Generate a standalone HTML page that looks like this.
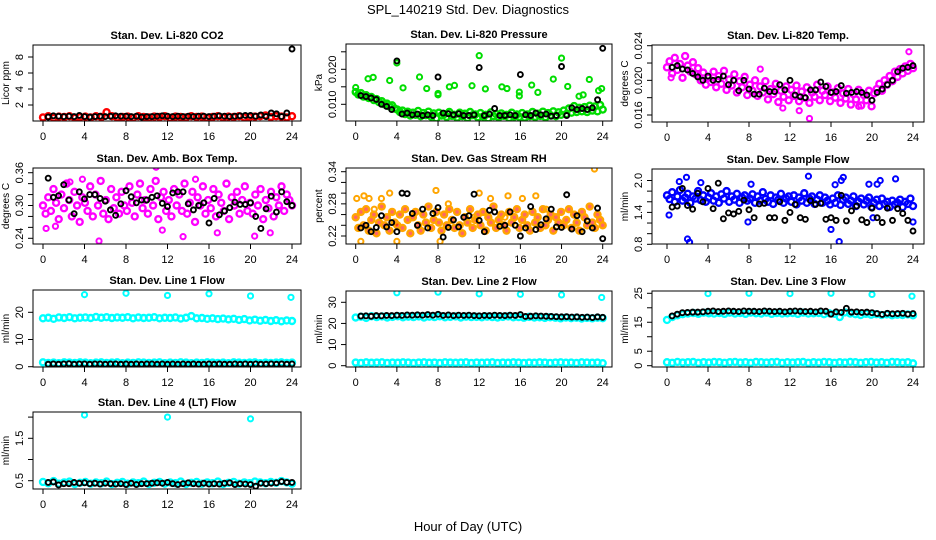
<!DOCTYPE html>
<html><head><meta charset="utf-8">
<style>
html,body{margin:0;padding:0;background:#fff;}
svg{display:block;font-family:"Liberation Sans",Arial,sans-serif;}
</style></head>
<body>
<svg id="chart" width="936" height="540" viewBox="0 0 936 540" xmlns="http://www.w3.org/2000/svg">
<rect width="936" height="540" fill="#fff"/>
<text x="468" y="14" text-anchor="middle" font-size="13">SPL_140219  Std. Dev. Diagnostics</text>
<text x="468" y="531" text-anchor="middle" font-size="13">Hour of Day (UTC)</text>
</svg>
<script>
// ---------- DATA ----------
const hourTicks = [0,4,8,12,16,20,24];

const co2Color = [.45,.6,.4,.55,.5,.6,.4,.5,.55,.45,.6,.5, 1.1,.6,.45,.5,.55,.4,.6,.5,.45,.55,.5,.6, .4,.55,.5,.45,.6,.5,.55,.4,.5,.6,.45,.55, .5,.6,.45,.5,.55,.6,.7,.5,.6,.55,.45,.6];
const co2Black = [.5,.65,.6,.55,.6,.55,.7,.55, .5,.55,.6,.55,.6,.65,.6,.6, .55,.6,.5,.55,.55,.6,.65,.6, .55,.6,.55,.6,.55,.6,.6,.55, .6,.65,.6,.55,.6,.65,.7,.7, .6,.75,.55,1.0,.9,.55,1.0,9.0];
const co2OutHours = [];
const co2OutValues = [];

const presColor = [.0135,.0128,.0132,.0122,.0126,.0118,.0121,.0112,.0115,.0106,.0109,.0100,.0102,.0094,.0097,.0088,
.0085,.0078,.0082,.0072,.0079,.0068,.0076,.0070,.0081,.0066,.0075,.0069,.0079,.0065,.0074,.0060,
.0076,.0068,.0072,.0064,.0078,.0067,.0070,.0062,.0076,.0066,.0073,.0061,.0078,.0069,.0071,.0063,
.0075,.0065,.0070,.0060,.0077,.0066,.0072,.0063,.0074,.0067,.0070,.0061,.0076,.0065,.0071,.0064,
.0075,.0062,.0071,.0066,.0078,.0064,.0073,.0067,.0079,.0063,.0075,.0068,.0080,.0066,.0077,.0070,
.0082,.0072,.0088,.0076,.0095,.0078,.0090,.0080,.0092,.0078,.0096,.0082,.0094,.0080,.0098,.0085];
const presBlack = [.0125,.0122,.0118,.0114,.0100,.0094,.0085,.0224, .0072,.0075,.0070,.0072,.0068,.0070,.0068,.0178, .0075,.0073,.0070,.0073,.0068,.0068,.0070,.0205, .0068,.0072,.0088,.0068,.0068,.0070,.0068,.0185, .0070,.0068,.0075,.0070,.0072,.0066,.0068,.0208, .0068,.0090,.0085,.0088,.0085,.0090,.0113,.0260];
const presOutHours = [0,1.2,1.7,3.3,4,4.6,6.2,6.9,8,8,9.1,9.6,11.3,12,12.6,14.2,14.7,15.9,15.9,17.1,17.7,19.2,20,20.6,21.7,22.1,22.7,23.6,23.9];
const presOutValues = [.0148,.0173,.0177,.0168,.0218,.0147,.0178,.0145,.0131,.0127,.0150,.0154,.0153,.0239,.0144,.0150,.0145,.0135,.0124,.0155,.0134,.0172,.0232,.0151,.0123,.0127,.0171,.0139,.0145];

const tempColor = [.0215,.0222,.0208,.0226,.0212,.0219,.0203,.0228,.0217,.0210,.0221,.0207,.0214,.0200,.0209,.0195,
.0203,.0198,.0210,.0192,.0205,.0196,.0211,.0189,.0201,.0194,.0207,.0186,.0199,.0192,.0204,.0183,
.0195,.0188,.0200,.0182,.0193,.0186,.0199,.0178,.0190,.0184,.0196,.0175,.0188,.0181,.0193,.0177,
.0189,.0182,.0194,.0176,.0187,.0180,.0192,.0174,.0186,.0181,.0195,.0177,.0188,.0183,.0193,.0176,
.0186,.0180,.0191,.0174,.0185,.0179,.0190,.0172,.0184,.0178,.0189,.0171,.0183,.0177,.0188,.0170,
.0185,.0190,.0196,.0188,.0200,.0195,.0205,.0199,.0210,.0204,.0213,.0208,.0216,.0211,.0219,.0214];
const tempBlack = [.0215,.0217,.0213,.0212,.0208,.0204,.0200,.0205, .0200,.0201,.0205,.0195,.0200,.0188,.0200,.0190, .0184,.0184,.0191,.0187,.0187,.0195,.0189,.0200, .0183,.0181,.0180,.0189,.0189,.0198,.0193,.0186, .0187,.0194,.0185,.0186,.0187,.0186,.0183,.0177, .0186,.0190,.0195,.0200,.0210,.0214,.0215,.0217];
const tempOutHours = [0.4,9.1,11.3,12.9,13.9,18.7,23.6];
const tempOutValues = [.0203,.0213,.0168,.0165,.0156,.0170,.0233];

const ambColor = [.300,.285,.315,.290,.330,.305,.275,.320,.295,.340,.310,.280,.325,.300,.270,.315,
.305,.290,.335,.280,.320,.300,.345,.285,.310,.275,.330,.295,.315,.285,.325,.300,
.290,.335,.305,.280,.320,.340,.295,.310,.285,.330,.300,.345,.275,.315,.325,.290,
.310,.280,.330,.300,.320,.290,.340,.285,.305,.325,.270,.315,.300,.335,.285,.310,
.295,.330,.280,.320,.305,.290,.340,.275,.315,.300,.325,.285,.310,.335,.290,.305,
.285,.320,.300,.330,.275,.310,.295,.325,.280,.315,.300,.335,.290,.320,.310,.300];
const ambBlack = [.350,.315,.318,.338,.310,.285,.325,.312, .320,.320,.313,.308,.292,.282,.303,.327, .316,.305,.310,.310,.315,.318,.304,.298, .323,.325,.325,.303,.292,.300,.305,.268, .313,.283,.290,.296,.306,.302,.302,.305, .280,.258,.294,.317,.288,.325,.307,.300];
const ambOutHours = [0.3,1.2,2.6,3.8,5.4,10.9,11.5,13.5,14.7,16.8,20.4,21.9];
const ambOutValues = [.258,.262,.343,.348,.235,.370,.255,.243,.348,.250,.244,.250];

const rhColor = [.255,.235,.265,.240,.270,.230,.250,.260,.225,.245,.275,.240,.255,.230,.265,.245,
.240,.260,.235,.270,.250,.225,.255,.265,.240,.230,.260,.245,.275,.235,.250,.265,
.245,.230,.260,.240,.270,.250,.235,.265,.240,.225,.255,.245,.270,.235,.250,.260,
.240,.265,.230,.255,.245,.275,.235,.250,.260,.240,.230,.265,.245,.255,.270,.235,
.250,.260,.240,.230,.265,.245,.255,.235,.270,.240,.250,.260,.230,.255,.245,.265,
.240,.250,.270,.235,.260,.245,.230,.265,.255,.240,.275,.245,.235,.260,.250,.240];
const rhBlack = [.235,.240,.228,.236,.258,.237,.245,.228,.300,.299,.262,.240,.270,.235,.262,.273, .218,.236,.250,.237,.255,.258,.298,.249,.228,.268,.265,.238,.240,.265,.240,.220, .235,.275,.232,.241,.252,.270,.237,.236,.297,.233,.258,.228,.248,.235,.272,.215];
const rhOutHours = [0.1,0.5,0.8,1.3,1.8,2.5,3.3,4,7.8,8.2,9,11.5,12,13.1,14.5,14.8,16.2,17.5,18.5,23.2];
const rhOutValues = [.29,.21,.295,.29,.27,.29,.30,.21,.305,.21,.28,.255,.30,.29,.255,.295,.29,.295,.27,.345];

const flowColor = [1.72,1.65,1.78,1.60,1.70,1.82,1.62,1.68,1.75,1.58,1.70,1.66,1.80,1.63,1.72,1.60,
1.68,1.76,1.62,1.70,1.58,1.74,1.66,1.80,1.60,1.70,1.64,1.75,1.58,1.68,1.72,1.62,
1.66,1.74,1.58,1.70,1.62,1.78,1.65,1.60,1.72,1.56,1.68,1.64,1.75,1.58,1.66,1.70,
1.60,1.72,1.55,1.68,1.62,1.76,1.58,1.66,1.70,1.56,1.64,1.72,1.58,1.68,1.62,1.55,
1.66,1.58,1.72,1.54,1.64,1.68,1.56,1.62,1.70,1.52,1.60,1.66,1.55,1.62,1.68,1.50,
1.58,1.64,1.52,1.66,1.56,1.60,1.50,1.62,1.55,1.58,1.64,1.50,1.60,1.56,1.66,1.52];
const flowBlack = [1.5,1.52,1.85,1.53,1.46,1.76,1.6,1.85,1.47,1.95,1.28,1.39,1.37,1.42,1.63,1.45, 1.30,1.56,1.57,1.3,1.3,1.60,1.25,1.4,1.55,1.3,1.27,1.62,1.55,1.57,1.27,1.30, 1.25,1.72,1.24,1.43,1.52,1.26,1.21,1.48,1.30,1.21,1.48,1.25,1.47,1.38,1.25,1.05];
const flowOutHours = [0.2,1.2,1.9,2,2.2,3.3,7.9,8.2,13.8,16,16.4,16.8,17,17.2,19.7,20.5,20.8,22.3,20.1,24];
const flowOutValues = [1.35,1.98,2.06,0.9,0.84,1.96,1.22,1.93,2.08,1.08,1.92,0.85,2.0,2.06,1.93,1.93,2.0,2.03,1.3,1.22];

const line1Color = [17.8,18.0,17.6,18.1,17.9,18.2,17.8,18.0,18.1,17.9,18.3,18.0, 18.2,17.9,18.1,18.0,18.2,17.8,18.1,17.9,18.0,18.2,17.8,18.0, 17.9,18.1,17.7,18.0,18.6,17.8,17.9,17.6,17.8,17.5,17.7,17.4, 17.6,17.2,17.5,17.0,17.3,16.9,17.2,16.8,17.1,16.7,17.0,16.8];
const line1Low = [1.6,1.4,1.5,1.3,1.6,1.5,1.4,1.6,1.5,1.3,1.5,1.6, 1.4,1.5,1.6,1.3,1.5,1.4,1.6,1.5,1.4,1.5,1.6,1.3, 1.5,1.4,1.6,1.5,1.3,1.5,1.4,1.6,1.5,1.4,1.5,1.3, 1.6,1.5,1.4,1.5,1.6,1.3,1.5,1.4,1.5,1.6,1.4,1.5];
const line1Black = [0.9,1.0,0.9,1.0,1.1,0.9,1.0,1.0, 0.9,1.0,1.0,0.9,1.0,1.0,0.9,1.0, 0.9,1.0,0.9,1.0,1.0,0.9,1.0,0.9, 1.0,0.9,1.0,0.9,1.0,0.9,0.9,1.0, 0.9,1.0,0.9,0.9,1.0,0.9,1.0,0.9, 1.0,0.9,0.9,1.0,0.9,1.0,0.9,1.0];
const line1OutHours = [4,8,12,16,20,23.9];
const line1OutValues = [26.5,27,26.2,26.8,26,25.5];

const line2Color = [22.8,23.2,22.6,23.4,23.0,23.3,22.8,23.1,23.4,22.9,23.2,23.0, 23.3,22.8,23.2,23.0,23.4,22.9,23.1,23.3,22.8,23.2,23.0,23.1, 22.9,23.2,23.0,22.8,23.1,23.3,22.9,23.0,22.7,23.1,22.8,22.9, 22.6,22.9,22.7,22.4,22.8,22.5,22.7,22.3,22.6,22.4,22.7,22.5];
const line2Low = [1.5,1.3,1.6,1.4,1.5,1.6,1.3,1.5,1.4,1.6,1.5,1.3, 1.5,1.6,1.4,1.5,1.3,1.6,1.5,1.4,1.5,1.6,1.3,1.5, 1.4,1.5,1.6,1.3,1.5,1.4,1.6,1.5,1.3,1.5,1.4,1.6, 1.5,1.3,1.5,1.6,1.4,1.5,1.3,1.6,1.5,1.4,1.5,1.2];
const line2Black = [23.5,23.6,23.4,23.7,23.6,23.8,23.7,23.9, 23.8,24.0,23.9,24.1,23.9,24.2,23.9,24.3, 23.8,24.0,23.7,23.9,23.8,23.9,23.7,23.6, 23.8,23.7,23.9,23.8,23.7,23.9,23.8,24.2, 23.3,23.4,23.6,23.5,23.4,23.3,23.2,23.1, 23.2,23.0,23.1,22.9,23.0,22.8,23.1,22.9];
const line2OutHours = [4,8,12,16,20,23.9];
const line2OutValues = [34.5,34.8,34,33.8,33.5,32.3];

const line3Color = [15.8,16.8,17.4,17.8,18.0,18.2,17.9,18.3,18.1,18.0,18.2,17.9, 18.3,18.0,18.2,17.9,18.3,18.1,18.0,18.3,17.9,18.2,18.0,18.1, 18.2,17.9,18.3,18.0,18.1,18.2,17.8,18.1,17.9,16.8,18.4,18.0, 17.8,17.5,17.9,17.6,17.8,17.5,17.7,17.4,17.6,17.5,17.7,17.4];
const line3Low = [1.2,1.0,1.3,1.1,1.2,1.3,1.0,1.2,1.1,1.3,1.2,1.0, 1.2,1.3,1.1,1.2,1.0,1.3,1.2,1.1,1.2,1.3,1.0,1.2, 1.1,1.2,1.3,1.0,1.2,1.1,1.3,1.2,1.0,1.2,1.1,1.3, 1.2,1.0,1.2,1.3,1.1,1.2,1.0,1.3,1.2,1.1,1.2,0.8];
const line3Black = [17.2,17.8,18.3,18.4,18.5,18.5,18.6,18.8, 18.9,18.7,18.8,18.9,18.8,18.7,18.9,18.8, 18.8,18.7,18.9,18.8,18.7,18.8,18.6,18.8, 18.9,18.8,18.7,18.8,18.6,18.9,18.8,17.8, 18.6,18.4,19.8,18.5,18.6,18.4,18.5,18.3, 18.0,17.7,18.1,17.9,18.0,18.1,17.8,18.0];
const line3OutHours = [4,8,12,16,20,23.9];
const line3OutValues = [24.9,25,24.9,25,24.6,24];

const line4Color = [.47,.44,.49,.43,.46,.48,.42,.45,.47,.43,.46,.44, .48,.42,.45,.47,.43,.46,.44,.48,.42,.45,.47,.43, .46,.44,.48,.42,.45,.47,.43,.46,.44,.48,.42,.45, .47,.43,.46,.44,.48,.46,.44,.47,.45,.49,.46,.43];
const line4Black = [.46,.47,.40,.43,.43,.46,.44,.45, .43,.44,.42,.44,.43,.42,.43,.41, .44,.41,.43,.43,.44,.45,.44,.46, .43,.41,.43,.45,.43,.42,.44,.42, .43,.42,.44,.45,.41,.43,.42,.41, .37,.44,.43,.44,.45,.48,.46,.46];
const line4OutHours = [4,12,20];
const line4OutValues = [2.05,2.0,1.96];

// ---------- DRAWING ----------
const svg = document.getElementById('chart');
const NS = 'http://www.w3.org/2000/svg';
function mk(tag, attrs, parent){
  const e = document.createElementNS(NS, tag);
  for (const k in attrs) e.setAttribute(k, attrs[k]);
  (parent||svg).appendChild(e);
  return e;
}

const panels = [
 {id:'co2', title:'Stan. Dev. Li-820 CO2', ylab:'Licor ppm', box:[33,45,301,121], x0:43, x24:292, ya:[0,121], yb:[8,57], ticks:[2,4,6,8], labels:['2','4','6','8'], color:'#ff0000', col:[co2Color], blk:co2Black, oh:co2OutHours, ov:co2OutValues},
 {id:'pressure', title:'Stan. Dev. Li-820 Pressure', ylab:'kPa', box:[346,44,612,121], x0:355.7, x24:602.7, ya:[.010,104.3], yb:[.020,69.3], ticks:[.010,.015,.020,.025], labels:['0.010','','0.020',''], color:'#00dd00', col:[presColor], blk:presBlack, oh:presOutHours, ov:presOutValues},
 {id:'temp', title:'Stan. Dev. Li-820 Temp.', ylab:'degrees C', box:[652,45,924,122], x0:667, x24:913, ya:[.016,115], yb:[.024,45.7], ticks:[.016,.018,.020,.022,.024], labels:['0.016','','0.020','','0.024'], color:'#ff00ff', col:[tempColor], blk:tempBlack, oh:tempOutHours, ov:tempOutValues},
 {id:'ambtemp', title:'Stan. Dev. Amb. Box Temp.', ylab:'degrees C', box:[33,168,301,244], x0:43, x24:292, ya:[.24,238.3], yb:[.36,172.7], ticks:[.24,.26,.28,.30,.32,.34,.36], labels:['0.24','','','0.30','','','0.36'], color:'#ff00ff', col:[ambColor], blk:ambBlack, oh:ambOutHours, ov:ambOutValues},
 {id:'rh', title:'Stan. Dev. Gas Stream RH', ylab:'percent', box:[346,168,612,244], x0:355.7, x24:602.7, ya:[.22,236], yb:[.34,171.7], ticks:[.22,.24,.26,.28,.30,.32,.34], labels:['0.22','','','0.28','','','0.34'], color:'#ffa500', col:[rhColor], blk:rhBlack, oh:rhOutHours, ov:rhOutValues, inner:'#ff0000'},
 {id:'sampleflow', title:'Stan. Dev. Sample Flow', ylab:'ml/min', box:[652,169,924,244], x0:667, x24:913, ya:[0.8,244.3], yb:[2.0,180.5], ticks:[0.8,1.0,1.2,1.4,1.6,1.8,2.0], labels:['0.8','','','1.4','','','2.0'], color:'#0000ff', col:[flowColor], blk:flowBlack, oh:flowOutHours, ov:flowOutValues},
 {id:'line1', title:'Stan. Dev. Line 1 Flow', ylab:'ml/min', box:[33,290,301,367], x0:43, x24:292, ya:[0,366.7], yb:[20,312.3], ticks:[0,10,20], labels:['0','10','20'], color:'#00ffff', col:[line1Color,line1Low], blk:line1Black, oh:line1OutHours, ov:line1OutValues},
 {id:'line2', title:'Stan. Dev. Line 2 Flow', ylab:'ml/min', box:[346,291,612,367], x0:355.7, x24:602.7, ya:[0,365.7], yb:[30,302.3], ticks:[0,10,20,30], labels:['0','10','20','30'], color:'#00ffff', col:[line2Color,line2Low], blk:line2Black, oh:line2OutHours, ov:line2OutValues},
 {id:'line3', title:'Stan. Dev. Line 3 Flow', ylab:'ml/min', box:[652,291,924,367], x0:667, x24:913, ya:[0,365.7], yb:[25,293.3], ticks:[0,5,10,15,20,25], labels:['0','5','','15','','25'], color:'#00ffff', col:[line3Color,line3Low], blk:line3Black, oh:line3OutHours, ov:line3OutValues},
 {id:'line4', title:'Stan. Dev. Line 4 (LT) Flow', ylab:'ml/min', box:[33,412,301,489], x0:43, x24:292, ya:[0.5,480.7], yb:[1.5,438.3], ticks:[0.5,1.0,1.5,2.0], labels:['0.5','','1.5',''], color:'#00ffff', col:[line4Color], blk:line4Black, oh:line4OutHours, ov:line4OutValues}
];

panels.forEach(p => {
  const g = mk('g', {});
  
  
  const [L,T,R,B] = p.box;
  const xs = h => p.x0 + (p.x24 - p.x0) * h / 24;
  const ys = v => p.ya[1] + (p.yb[1] - p.ya[1]) * (v - p.ya[0]) / (p.yb[0] - p.ya[0]);

  const clip = mk('clipPath', {id:'clip-' + p.id}, g);
  mk('rect', {x:L, y:T, width:R-L, height:B-T}, clip);
  const pts = mk('g', {'clip-path':'url(#clip-' + p.id + ')'}, g);
  
  

  p.col.forEach(arr => {
    const n = arr.length;
    arr.forEach((v, i) => {
      const h = 24 * i / (n - 1);
      const c = mk('circle', {cx:xs(h), cy:ys(v), r:3.0, fill: p.inner ? p.inner : 'none', 'fill-opacity': p.inner ? 0.6 : 1, stroke:p.color, 'stroke-width':2.4}, pts);
      
      
    });
  });
  p.oh.forEach((h, i) => {
    const c = mk('circle', {cx:xs(h), cy:ys(p.ov[i]), r:2.6, fill:'none', stroke:p.color, 'stroke-width':2}, pts);
    
    
  });
  p.blk.forEach((v, i) => {
    const h = (i + 1) / 2;
    const c = mk('circle', {cx:xs(h), cy:ys(v), r:2.5, fill:'none', stroke:'#000', 'stroke-width':1.9}, pts);
    
    
  });

  const box = mk('rect', {x:L, y:T, width:R-L, height:B-T, fill:'none', stroke:'#000', 'stroke-width':1}, g);
  
  

  const xa = mk('g', {}, g);
  
  
  hourTicks.forEach(h => {
    mk('line', {x1:xs(h), x2:xs(h), y1:B, y2:B+5, stroke:'#000', 'stroke-width':1}, xa);
    const t = mk('text', {x:xs(h), y:B+19, 'text-anchor':'middle', 'font-size':11}, xa);
    t.textContent = h;
    
    
  });
  const ya = mk('g', {}, g);
  
  
  p.ticks.forEach((v, i) => {
    const y = ys(v);
    mk('line', {x1:L-5, x2:L, y1:y, y2:y, stroke:'#000', 'stroke-width':1}, ya);
    if (p.labels[i]) {
      const t = mk('text', {x:L-10, y:y, 'text-anchor':'middle', 'font-size':11, transform:'rotate(-90 ' + (L-10) + ' ' + y + ')'}, ya);
      t.textContent = p.labels[i];
      
      
    }
  });
  const yl = mk('text', {x:L-24, y:(T+B)/2, 'text-anchor':'middle', 'font-size':10, transform:'rotate(-90 ' + (L-24) + ' ' + ((T+B)/2) + ')'}, g);
  yl.textContent = p.ylab;
  
  

  const tt = mk('text', {x:(L+R)/2, y:T-6, 'text-anchor':'middle', 'font-size':11, 'font-weight':'bold'}, g);
  tt.textContent = p.title;
  
  
});
</script>
</body></html>
